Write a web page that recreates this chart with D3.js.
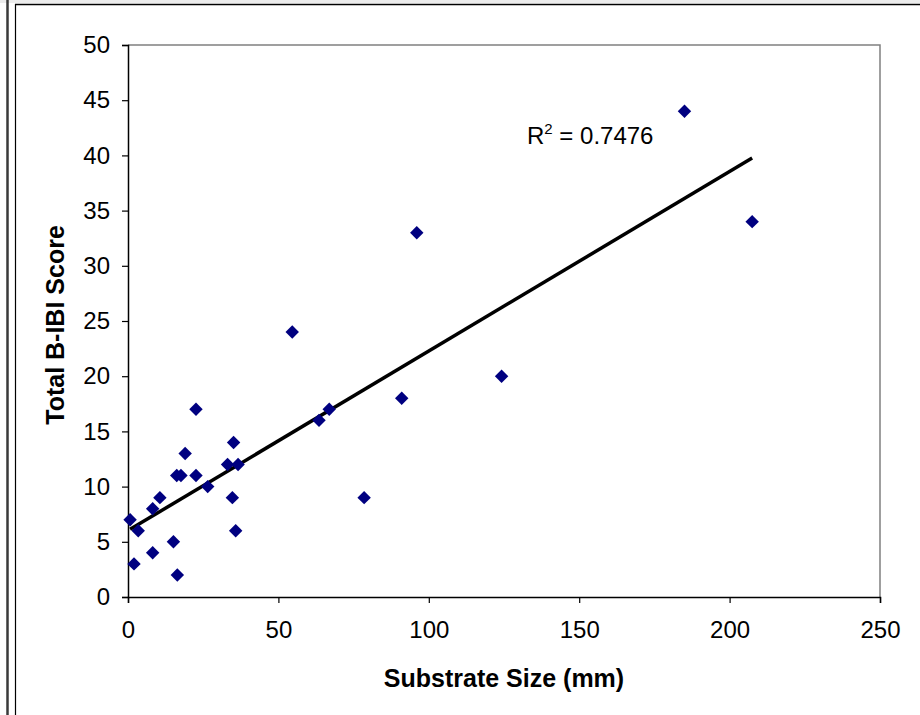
<!DOCTYPE html>
<html>
<head>
<meta charset="utf-8">
<script src="https://cdn.jsdelivr.net/npm/d3@7"></script>
<style>
  html, body { margin: 0; padding: 0; background: #fff; }
  svg { display: block; font-family: "Liberation Sans", Arial, sans-serif; }
</style>
</head>
<body>
<div id="chart"></div>
<script>
// substrate size (mm) and total B-IBI score
const substrateSize = [0.7, 2, 3.4, 8.2, 8.2, 10.6, 15.1, 16.4, 16.2, 17.6, 19, 22.6, 22.6, 26.5,
  33.1, 34.7, 35.1, 35.8, 36.6, 54.6, 63.5, 66.9, 78.5, 91, 96, 124.2, 185, 207.5];
const biblScore = [7, 3, 6, 8, 4, 9, 5, 2, 11, 11, 13, 17, 11, 10,
  12, 9, 14, 6, 12, 24, 16, 17, 9, 18, 33, 20, 44, 34];
const xTicks = [0, 50, 100, 150, 200, 250];
const yTicks = [0, 5, 10, 15, 20, 25, 30, 35, 40, 45, 50];
const rSquaredLabel = "0.7476";

const width = 920, height = 715;
const plot = { left: 128, right: 880, top: 45, bottom: 597 };

const svg = d3.select("#chart").append("svg")
  .attr("width", width)
  .attr("height", height);

// outer frame, like the pasted Excel chart
svg.append("rect").attr("x", 0).attr("y", 0).attr("width", width).attr("height", 3).attr("fill", "#ececec");
svg.append("line").attr("x1", 7.5).attr("x2", 7.5).attr("y1", 0).attr("y2", height)
  .attr("stroke", "#3a3a3a").attr("stroke-width", 2.5);
svg.append("line").attr("x1", 15.5).attr("x2", 15.5).attr("y1", 4).attr("y2", height)
  .attr("stroke", "#000").attr("stroke-width", 1.2);
svg.append("line").attr("x1", 15).attr("x2", width).attr("y1", 4.5).attr("y2", 4.5)
  .attr("stroke", "#000").attr("stroke-width", 1.5);

const x = d3.scaleLinear().domain([0, 250]).range([plot.left, plot.right]);
const y = d3.scaleLinear().domain([0, 50]).range([plot.bottom, plot.top]);

// plot area border (grey top and right)
svg.append("path")
  .attr("d", `M${plot.left},${plot.top}H${plot.right}V${plot.bottom}`)
  .attr("fill", "none")
  .attr("stroke", "#808080")
  .attr("stroke-width", 1.5);

const xAxis = svg.append("g")
  .attr("transform", `translate(0,${plot.bottom})`)
  .call(d3.axisBottom(x).tickValues(xTicks).tickSize(6).tickPadding(18).tickFormat(d3.format("d")));
const yAxis = svg.append("g")
  .attr("transform", `translate(${plot.left},0)`)
  .call(d3.axisLeft(y).tickValues(yTicks).tickSize(6).tickPadding(12).tickFormat(d3.format("d")));

[xAxis, yAxis].forEach(g => {
  g.select(".domain").attr("stroke", "#000").attr("stroke-width", 1.5);
  g.selectAll(".tick line").attr("stroke", "#000").attr("stroke-width", 1.2);
  g.selectAll(".tick text")
    .attr("font-family", "Liberation Sans, Arial, sans-serif")
    .attr("font-size", 24)
    .attr("fill", "#000");
});

// axis titles
svg.append("text")
  .attr("x", (plot.left + plot.right) / 2)
  .attr("y", 687)
  .attr("text-anchor", "middle")
  .attr("font-size", 25)
  .attr("font-weight", "bold")
  .text("Substrate Size (mm)");

svg.append("text")
  .attr("transform", `translate(64,${(plot.top + plot.bottom) / 2 + 4}) rotate(-90)`)
  .attr("text-anchor", "middle")
  .attr("font-size", 25)
  .attr("font-weight", "bold")
  .text("Total B-IBI Score");

// linear trendline (least squares)
const points = substrateSize.map((v, i) => ({ x: v, y: biblScore[i] }));
const mx = d3.mean(points, d => d.x), my = d3.mean(points, d => d.y);
const slope = d3.sum(points, d => (d.x - mx) * (d.y - my)) / d3.sum(points, d => (d.x - mx) ** 2);
const intercept = my - slope * mx;
const [xMin, xMax] = d3.extent(points, d => d.x);

svg.append("line")
  .attr("x1", x(xMin)).attr("y1", y(intercept + slope * xMin))
  .attr("x2", x(xMax)).attr("y2", y(intercept + slope * xMax))
  .attr("stroke", "#000")
  .attr("stroke-width", 3.5);

// diamond markers
svg.append("g")
  .selectAll("path")
  .data(points)
  .enter().append("path")
  .attr("transform", d => `translate(${x(d.x)},${y(d.y)})`)
  .attr("d", d3.symbol().type(d3.symbolDiamond2).size(115))
  .attr("fill", "#000080");

// R squared label
const r2 = svg.append("text")
  .attr("x", 527)
  .attr("y", 144)
  .attr("font-size", 24)
  .attr("fill", "#000");
r2.append("tspan").text("R");
r2.append("tspan").attr("font-size", 15).attr("dy", -10).text("2");
r2.append("tspan").attr("dy", 10).text(" = " + rSquaredLabel);
</script>
</body>
</html>
